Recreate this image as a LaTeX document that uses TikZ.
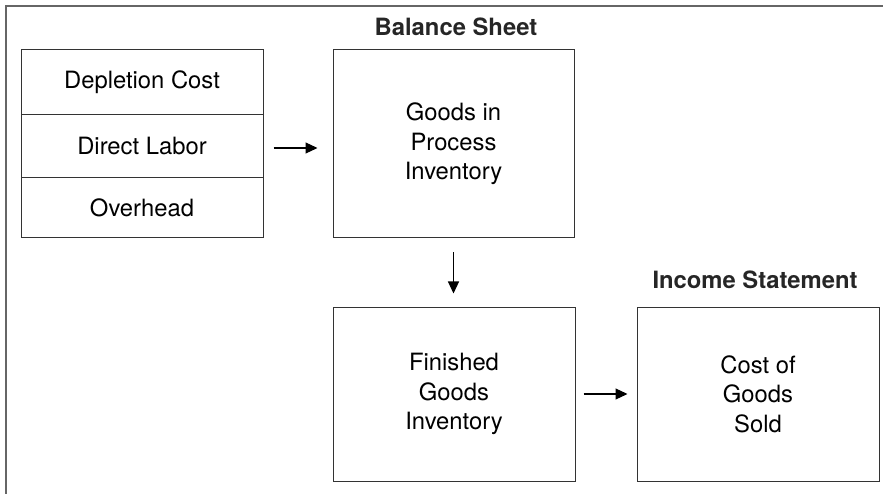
\documentclass[tikz,border=0pt]{standalone}
\usepackage{fontspec}
\setmainfont{TeX Gyre Heros}
\usetikzlibrary{arrows.meta}
\tikzset{
  boxnode/.style={draw=black!80, line width=1pt, rectangle, align=center, inner sep=0pt,
    font=\fontsize{23.8}{29.5}\selectfont},
  titlenode/.style={font=\fontsize{23.8}{29}\selectfont\bfseries, text=black!85, inner sep=0pt},
  arr/.style={draw=black, line width=1.2pt, -{Triangle[length=12pt,width=11pt]}},
  frameline/.style={draw=black!60, line width=2pt}
}
\begin{document}
\begin{tikzpicture}[x=1pt,y=-1pt]
\useasboundingbox (0,0) rectangle (883,494);
% frame
\coordinate (fbl) at (6,494);
\coordinate (ftl) at (6,6);
\coordinate (ftr) at (883,6);
\draw[frameline] (fbl) -- (ftl) -- (ftr);
% left stacked box
\node[boxnode, minimum width=242pt, minimum height=65pt] (dep) at (142,82.5) {Depletion Cost};
\node[boxnode, minimum width=242pt, minimum height=63pt] (lab) at (142,146.5) {Direct Labor};
\node[boxnode, minimum width=242pt, minimum height=60pt] (ovh) at (142,208) {Overhead};
% main boxes
\node[boxnode, minimum width=241pt, minimum height=188pt] (gip) at (453.5,144) {Goods in\\Process\\Inventory};
\node[boxnode, minimum width=242pt, minimum height=174pt] (fgi) at (454,394) {Finished\\Goods\\Inventory};
\node[boxnode, minimum width=242pt, minimum height=174pt] (cogs) at (758,394) {Cost of\\Goods\\Sold};
% titles
\node[titlenode] (bs) at (456,27) {Balance Sheet};
\node[titlenode] (is) at (755,280) {Income Statement};
% arrows
\draw[arr, shorten <=10pt, shorten >=15pt] ([yshift=-1.5pt]lab.east) -- ([yshift=-1.5pt]lab.east -| gip.west);
\draw[arr, shorten <=14pt, shorten >=13pt] (gip.south) -- (gip.south |- fgi.north);
\draw[arr, shorten <=8pt, shorten >=9pt] (fgi.east) -- (cogs.west);
\end{tikzpicture}
\end{document}
